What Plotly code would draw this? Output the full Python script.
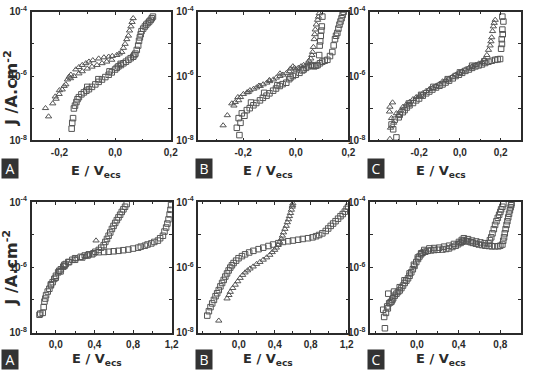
import plotly.graph_objects as go

W, H = 538, 381

# ---------------- data (E in V vs ECS, J in A/cm2) ----------------
# Top row, panel A
tA_tri_E = [-0.239, -0.224, -0.212, -0.201, -0.183, -0.171, -0.159, -0.141, -0.118, -0.094, -0.059, -0.023,
            0.006, 0.024, 0.036, 0.048, 0.057, 0.065, -0.177, -0.148, -0.118, -0.083, -0.047, -0.012,
            -0.25, -0.215, -0.19, -0.165, -0.13, -0.105, -0.08, -0.04, -0.01, 0.015, 0.03, 0.042, 0.052, 0.061,
            -0.20, -0.16, -0.13, -0.10, -0.065, -0.03]
tA_tri_J = [5.5e-8, 1.4e-7, 1.95e-7, 2.75e-7, 4.9e-7, 7.8e-7, 1.1e-6, 1.6e-6, 2.2e-6, 2.8e-6, 3.5e-6, 4.0e-6,
            4.5e-6, 5.6e-6, 1.0e-5, 1.8e-5, 3.5e-5, 6.3e-5, 5.5e-7, 1.0e-6, 1.4e-6, 1.95e-6, 2.5e-6, 3.2e-6,
            1.0e-7, 2.3e-7, 3.8e-7, 9.5e-7, 1.9e-6, 2.5e-6, 3.1e-6, 3.8e-6, 4.2e-6, 5.0e-6, 7.5e-6, 1.4e-5, 2.6e-5, 4.8e-5,
            3.6e-7, 8.5e-7, 1.2e-6, 1.7e-6, 2.2e-6, 2.8e-6]
tA_sq_E = [-0.156, -0.151, -0.148, -0.139, -0.130, -0.112, -0.094, -0.071, -0.047, -0.023, 0.0, 0.012, 0.030,
           0.048, 0.065, 0.073, 0.083, 0.089, 0.095, 0.107, 0.118, 0.128, 0.136,
           -0.154, -0.144, -0.135, -0.121, -0.103, -0.083, -0.059, -0.035, -0.012, 0.006, 0.021, 0.039, 0.056,
           0.069, 0.078, 0.086, 0.092, 0.101, 0.112, 0.123, 0.132, -0.10, -0.06, -0.02, 0.02]
tA_sq_J = [2.3e-8, 4.9e-8, 9.8e-8, 1.55e-7, 2.2e-7, 3.1e-7, 3.9e-7, 5.5e-7, 7.8e-7, 1.1e-6, 1.6e-6, 2.0e-6, 2.5e-6,
           3.2e-6, 4.0e-6, 5.0e-6, 8.9e-6, 1.6e-5, 2.5e-5, 3.5e-5, 4.5e-5, 5.6e-5, 7.1e-5,
           3.5e-8, 1.2e-7, 1.9e-7, 2.7e-7, 3.5e-7, 4.6e-7, 6.6e-7, 9.3e-7, 1.3e-6, 1.8e-6, 2.2e-6, 2.8e-6, 3.6e-6,
           4.5e-6, 6.5e-6, 1.25e-5, 2.0e-5, 3.0e-5, 4.0e-5, 5.0e-5, 6.3e-5, 4.6e-7, 8.0e-7, 1.4e-6, 2.4e-6]

# Top row, panel B
tB_tri_E = [-0.276, -0.243, -0.230, -0.217, -0.199, -0.174, -0.149, -0.124, -0.099, -0.074, -0.049, -0.024,
            -0.011, 0.001, 0.020, 0.045, 0.057, 0.064, 0.070, 0.074, 0.083, 0.089,
            -0.26, -0.235, -0.21, -0.185, -0.16, -0.135, -0.11, -0.085, -0.06, -0.035, -0.005, 0.01, 0.03, 0.05,
            0.061, 0.067, 0.072, 0.078, 0.086, -0.22, -0.18, -0.14, -0.10, -0.06, -0.02]
tB_tri_J = [2.9e-8, 1.4e-7, 1.55e-7, 1.75e-7, 2.75e-7, 3.6e-7, 4.4e-7, 5.5e-7, 6.9e-7, 8.9e-7, 1.1e-6, 1.4e-6,
            2.0e-6, 1.6e-6, 2.0e-6, 2.5e-6, 3.5e-6, 5.6e-6, 1.4e-5, 2.8e-5, 5.6e-5, 8.9e-5,
            6.0e-8, 1.2e-7, 2.2e-7, 3.1e-7, 4.0e-7, 4.9e-7, 6.2e-7, 7.8e-7, 1.0e-6, 1.25e-6, 1.8e-6, 1.8e-6, 2.2e-6, 3.0e-6,
            4.5e-6, 8.0e-6, 2.0e-5, 4.0e-5, 7.0e-5, 2.2e-7, 3.2e-7, 5.0e-7, 7.5e-7, 1.2e-6, 1.7e-6]
tB_sq_E = [-0.214, -0.224, -0.217, -0.205, -0.186, -0.161, -0.136, -0.111, -0.086, -0.061, -0.036, -0.011,
           0.014, 0.039, 0.057, 0.070, 0.083, 0.101, 0.120, 0.139, 0.149, 0.158, 0.166, 0.174, 0.182,
           0.089, 0.091, 0.095, 0.099, 0.101,
           -0.21, -0.195, -0.175, -0.15, -0.125, -0.1, -0.075, -0.05, -0.025, 0.0, 0.025, 0.048, 0.063, 0.077,
           0.092, 0.11, 0.13, 0.144, 0.153, 0.162, 0.170, 0.178, 0.093, 0.097, -0.17, -0.12, -0.07, -0.02, 0.03]
tB_sq_J = [1.45e-8, 2.45e-8, 4.9e-8, 6.9e-8, 8.7e-8, 1.23e-7, 1.75e-7, 2.45e-7, 3.5e-7, 4.9e-7, 6.2e-7, 1.0e-6,
           1.26e-6, 1.8e-6, 2.2e-6, 2.0e-6, 2.2e-6, 2.8e-6, 3.2e-6, 5.6e-6, 1.4e-5, 2.2e-5, 4.0e-5, 6.3e-5, 1.0e-4,
           4.5e-6, 8.9e-6, 1.8e-5, 3.5e-5, 7.1e-5,
           3.5e-8, 5.8e-8, 1.0e-7, 1.45e-7, 2.1e-7, 2.9e-7, 4.1e-7, 5.6e-7, 8.0e-7, 1.1e-6, 1.5e-6, 2.0e-6, 2.1e-6, 2.1e-6,
           2.5e-6, 3.0e-6, 4.2e-6, 9.0e-6, 1.8e-5, 3.0e-5, 5.0e-5, 8.0e-5, 1.2e-5, 2.6e-5, 1.5e-7, 3.0e-7, 5.2e-7, 9.0e-7, 1.6e-6]

# Top row, panel C
tC_sq_E = [-0.311, -0.327, -0.335, -0.319, -0.295, -0.271, -0.247, -0.214, -0.182, -0.150, -0.117, -0.085,
           -0.053, -0.021, 0.011, 0.044, 0.076, 0.108, 0.140, 0.173, 0.197, 0.202, 0.205, 0.208, 0.213, 0.208,
           -0.30, -0.28, -0.26, -0.23, -0.20, -0.165, -0.135, -0.10, -0.07, -0.035, -0.005, 0.027, 0.06, 0.092,
           0.124, 0.156, 0.185, 0.21, 0.206, -0.25, -0.19, -0.13, -0.06, 0.0, 0.06, 0.12]
tC_sq_J = [1.23e-8, 2.2e-8, 3.1e-8, 4.4e-8, 6.2e-8, 8.7e-8, 1.23e-7, 1.75e-7, 2.45e-7, 3.3e-7, 4.4e-7, 5.5e-7,
           7.2e-7, 1.0e-6, 1.26e-6, 1.6e-6, 2.0e-6, 2.3e-6, 2.8e-6, 3.2e-6, 3.4e-6, 7.1e-6, 1.4e-5, 2.8e-5, 5.0e-5, 7.1e-5,
           5.2e-8, 7.5e-8, 1.05e-7, 1.45e-7, 2.0e-7, 2.9e-7, 3.8e-7, 5.0e-7, 6.3e-7, 8.5e-7, 1.1e-6, 1.45e-6, 1.8e-6, 2.15e-6,
           2.55e-6, 3.0e-6, 3.3e-6, 2.0e-5, 1.0e-5, 1.4e-7, 2.6e-7, 4.6e-7, 8.0e-7, 1.3e-6, 2.1e-6, 2.9e-6]
tC_tri_E = [-0.343, -0.340, -0.335, -0.311, -0.279, -0.247, -0.214, -0.182, -0.150, -0.117, -0.085, -0.053,
            -0.021, 0.011, 0.044, 0.076, 0.108, 0.132, 0.148, 0.156, 0.164, 0.173, -0.343, -0.345,
            -0.325, -0.30, -0.29, -0.263, -0.23, -0.198, -0.166, -0.133, -0.10, -0.069, -0.037, -0.005, 0.027,
            0.06, 0.092, 0.12, 0.14, 0.152, 0.16, 0.168, -0.33]
tC_tri_J = [1.1e-8, 2.45e-8, 4.9e-8, 6.9e-8, 1.1e-7, 1.55e-7, 2.2e-7, 2.9e-7, 3.9e-7, 4.9e-7, 6.8e-7, 8.3e-7,
            1.1e-6, 1.4e-6, 1.8e-6, 2.2e-6, 2.7e-6, 4.5e-6, 8.9e-6, 1.6e-5, 3.5e-5, 5.6e-5, 1.1e-7, 7.8e-8,
            3.5e-8, 6.0e-8, 8.5e-8, 1.3e-7, 1.9e-7, 2.5e-7, 3.4e-7, 4.3e-7, 5.7e-7, 7.5e-7, 9.5e-7, 1.25e-6, 1.6e-6,
            2.0e-6, 2.45e-6, 3.3e-6, 6.5e-6, 1.2e-5, 2.5e-5, 4.5e-5, 1.5e-7]

# Bottom row, panel A
bA_sq_E = [-0.168, -0.135, -0.117, -0.100, -0.066, -0.032, 0.002, 0.053, 0.104, 0.172, 0.258, 0.342, 0.445,
           0.547, 0.649, 0.751, 0.853, 0.922, 0.989, 1.057, 1.109, 1.142, 1.167, 1.187, 1.193,
           -0.16, -0.125, -0.108, -0.083, -0.05, -0.015, 0.025, 0.078, 0.13, 0.2, 0.3, 0.39, 0.5, 0.6, 0.7, 0.8,
           0.88, 0.95, 1.02, 1.08, 1.125, 1.155, 1.178, -0.05, 0.0, 0.05, 0.09]
bA_sq_J = [3.5e-8, 4.0e-8, 8.9e-8, 1.4e-7, 2.2e-7, 3.5e-7, 5.5e-7, 8.7e-7, 1.26e-6, 1.7e-6, 2.1e-6, 2.5e-6, 2.9e-6,
           3.0e-6, 3.2e-6, 3.5e-6, 4.0e-6, 4.6e-6, 5.4e-6, 6.6e-6, 9.3e-6, 1.66e-5, 2.95e-5, 5.8e-5, 8.1e-5,
           3.8e-8, 6.0e-8, 1.1e-7, 1.8e-7, 2.8e-7, 4.4e-7, 7.0e-7, 1.05e-6, 1.45e-6, 1.9e-6, 2.3e-6, 2.7e-6, 2.95e-6,
           3.1e-6, 3.35e-6, 3.75e-6, 4.3e-6, 5.0e-6, 6.0e-6, 7.8e-6, 1.25e-5, 2.2e-5, 4.2e-5, 3.0e-7, 4.8e-7, 7.5e-7, 1.1e-6]
bA_sq2_E = [0.445, 0.496, 0.530, 0.564, 0.598, 0.632, 0.666, 0.700, 0.734, 0.036, 0.138, 0.274, 0.376,
            0.47, 0.513, 0.547, 0.581, 0.615, 0.649, 0.683, 0.717, 0.09, 0.2, 0.33, 0.41]
bA_sq2_J = [3.4e-6, 4.8e-6, 7.4e-6, 1.17e-5, 1.86e-5, 2.8e-5, 4.1e-5, 6.0e-5, 8.7e-5, 7.8e-7, 1.45e-6, 2.0e-6, 2.5e-6,
            4.0e-6, 6.0e-6, 9.3e-6, 1.5e-5, 2.3e-5, 3.4e-5, 5.0e-5, 7.2e-5, 1.2e-6, 1.7e-6, 2.3e-6, 3.0e-6]
bA_tri_E = [0.417, 0.070, 0.207, 0.309]
bA_tri_J = [6.6e-6, 1.0e-6, 1.8e-6, 2.15e-6]

# Bottom row, panel B
bB_sq_E = [-0.351, -0.315, -0.277, -0.241, -0.205, -0.168, -0.131, -0.095, -0.058, -0.003, 0.070, 0.162, 0.272,
           0.382, 0.492, 0.602, 0.712, 0.821, 0.894, 0.968, 1.023, 1.077, 1.132, 1.180, 1.217,
           -0.333, -0.296, -0.259, -0.223, -0.186, -0.15, -0.113, -0.077, -0.03, 0.035, 0.115, 0.22, 0.33, 0.44,
           0.55, 0.66, 0.77, 0.86, 0.93, 0.995, 1.05, 1.105, 1.157, 1.2]
bB_sq_J = [3.3e-8, 6.0e-8, 1.0e-7, 1.6e-7, 2.6e-7, 4.1e-7, 6.5e-7, 9.8e-7, 1.35e-6, 1.9e-6, 2.5e-6, 3.2e-6, 4.0e-6,
           5.0e-6, 6.0e-6, 6.6e-6, 7.4e-6, 8.3e-6, 9.8e-6, 1.3e-5, 1.86e-5, 2.6e-5, 3.7e-5, 5.1e-5, 7.2e-5,
           4.5e-8, 7.8e-8, 1.3e-7, 2.0e-7, 3.3e-7, 5.2e-7, 8.0e-7, 1.15e-6, 1.6e-6, 2.2e-6, 2.85e-6, 3.6e-6, 4.5e-6, 5.5e-6,
           6.3e-6, 7.0e-6, 7.8e-6, 9.0e-6, 1.1e-5, 1.55e-5, 2.2e-5, 3.1e-5, 4.3e-5, 6.2e-5]
bB_tri_E = [-0.223, -0.131, -0.095, -0.040, 0.015, 0.070, 0.125, 0.198, 0.272, 0.345, 0.399, 0.437, 0.473,
            0.498, 0.528, 0.553, 0.575, 0.594, 0.602,
            -0.11, -0.068, -0.012, 0.043, 0.098, 0.16, 0.235, 0.31, 0.372, 0.418, 0.455, 0.485, 0.513, 0.54,
            0.564, 0.585, 0.598]
bB_tri_J = [2.3e-8, 1.1e-7, 1.75e-7, 2.9e-7, 4.7e-7, 6.9e-7, 9.1e-7, 1.26e-6, 1.7e-6, 2.4e-6, 3.4e-6, 4.8e-6, 7.4e-6,
            1.17e-5, 1.86e-5, 2.95e-5, 4.6e-5, 7.2e-5, 9.1e-5,
            1.4e-7, 2.3e-7, 3.7e-7, 5.8e-7, 8.0e-7, 1.05e-6, 1.45e-6, 2.0e-6, 2.9e-6, 4.0e-6, 6.0e-6, 9.3e-6, 1.5e-5, 2.4e-5,
            3.7e-5, 5.8e-5, 8.0e-5]

# Bottom row, panel C
bC_sq_E = [-0.308, -0.324, -0.298, -0.286, -0.267, -0.245, -0.229, -0.197, -0.166, -0.134, -0.102, -0.071,
           -0.040, -0.007, 0.024, 0.055, 0.103, 0.166, 0.245, 0.308, 0.372, 0.419, 0.450, 0.491, 0.536, 0.593,
           0.656, 0.719, 0.782, 0.820, 0.836, 0.851, 0.868, 0.884, 0.899, 0.908,
           -0.315, -0.28, -0.255, -0.237, -0.213, -0.182, -0.15, -0.118, -0.086, -0.055, -0.024, 0.01, 0.04, 0.08,
           0.135, 0.2, 0.28, 0.34, 0.395, 0.435, 0.47, 0.515, 0.565, 0.625, 0.69, 0.75, 0.80, 0.828, 0.843, 0.86,
           0.876, 0.892, 0.904]
bC_sq_J = [1.35e-8, 5.0e-8, 4.0e-8, 6.3e-8, 7.9e-8, 8.9e-8, 1.12e-7, 1.55e-7, 1.95e-7, 2.75e-7, 3.9e-7, 5.5e-7,
           8.7e-7, 1.45e-6, 2.15e-6, 2.8e-6, 3.2e-6, 3.4e-6, 3.5e-6, 3.8e-6, 4.6e-6, 5.6e-6, 6.6e-6, 6.2e-6, 5.6e-6,
           5.0e-6, 4.6e-6, 4.4e-6, 4.4e-6, 5.0e-6, 8.3e-6, 1.48e-5, 2.6e-5, 4.4e-5, 6.9e-5, 9.1e-5,
           3.0e-8, 5.5e-8, 8.4e-8, 1.0e-7, 1.35e-7, 1.75e-7, 2.3e-7, 3.3e-7, 4.6e-7, 7.0e-7, 1.1e-6, 1.8e-6, 2.5e-6, 3.0e-6,
           3.3e-6, 3.45e-6, 3.65e-6, 4.2e-6, 5.1e-6, 6.1e-6, 6.4e-6, 5.9e-6, 5.3e-6, 4.8e-6, 4.5e-6, 4.4e-6, 4.6e-6,
           6.5e-6, 1.1e-5, 2.0e-5, 3.4e-5, 5.6e-5, 8.0e-5]
bC_sq2_E = [0.687, 0.713, 0.738, 0.763, 0.789, 0.808, 0.830, 0.119, 0.214, 0.308, 0.403, 0.450, 0.529, 0.609,
            -0.276, -0.166, -0.071, 0.008,
            0.70, 0.725, 0.75, 0.776, 0.80, 0.82, 0.07, 0.165, 0.26, 0.355, 0.43, 0.49, 0.57, 0.65,
            -0.22, -0.12, -0.03, 0.04]
bC_sq2_J = [5.4e-6, 8.3e-6, 1.48e-5, 2.6e-5, 4.1e-5, 6.0e-5, 8.7e-5, 3.8e-6, 4.0e-6, 4.6e-6, 6.0e-6, 7.8e-6,
            6.6e-6, 5.8e-6, 1.55e-7, 2.45e-7, 6.5e-7, 2.0e-6,
            6.8e-6, 1.1e-5, 2.0e-5, 3.3e-5, 5.0e-5, 7.2e-5, 3.4e-6, 3.9e-6, 4.3e-6, 5.2e-6, 6.9e-6, 7.3e-6, 6.2e-6, 5.5e-6,
            1.8e-7, 4.0e-7, 1.2e-6, 2.7e-6]

top_xticks = [-0.2, 0.0, 0.2]
top_xlabels = ["-0,2", "0,0", "0,2"]
bot_xticks = [0.0, 0.4, 0.8, 1.2]
bot_xlabels = ["0,0", "0,4", "0,8", "1,2"]
y_ticks = [1e-8, 1e-7, 1e-6, 1e-5, 1e-4]
y_labels = ["10<sup>-8</sup>", "", "10<sup>-6</sup>", "", "10<sup>-4</sup>"]
panel_letters = ["A", "B", "C", "A", "B", "C"]

SQ, TRI = "square-open", "triangle-up-open"
panels = [
    dict(box=(32, 173, 5, 138), xr=[-0.30, 0.20], xt=(top_xticks, top_xlabels), minor=0.1,
         series=[(tA_tri_E, tA_tri_J, TRI), (tA_sq_E, tA_sq_J, SQ)]),
    dict(box=(201, 353, 5, 138), xr=[-0.37, 0.20], xt=(top_xticks, top_xlabels), minor=0.1,
         series=[(tB_tri_E, tB_tri_J, TRI), (tB_sq_E, tB_sq_J, SQ)]),
    dict(box=(375, 528, 5, 138), xr=[-0.44, 0.30], xt=(top_xticks, top_xlabels), minor=0.1,
         series=[(tC_tri_E, tC_tri_J, TRI), (tC_sq_E, tC_sq_J, SQ)]),
    dict(box=(32, 174, 202, 337), xr=[-0.25, 1.20], xt=(bot_xticks, bot_xlabels), minor=0.2,
         series=[(bA_sq_E, bA_sq_J, SQ), (bA_sq2_E, bA_sq2_J, SQ), (bA_tri_E, bA_tri_J, TRI)]),
    dict(box=(201, 353, 202, 337), xr=[-0.45, 1.22], xt=(bot_xticks, bot_xlabels), minor=0.2,
         series=[(bB_sq_E, bB_sq_J, SQ), (bB_tri_E, bB_tri_J, TRI)]),
    dict(box=(375, 528, 202, 337), xr=[-0.45, 1.00], xt=(bot_xticks[:3], bot_xlabels[:3]), minor=0.2,
         series=[(bC_sq_E, bC_sq_J, SQ), (bC_sq2_E, bC_sq2_J, SQ)]),
]

INK = "#2b2b2b"
MARK = "#555555"
TICKFONT = dict(family="Liberation Sans", size=10, color=INK)
TITLEFONT = "DejaVu Sans"

fig = go.Figure()
annotations = []
for i, p in enumerate(panels, start=1):
    sfx = "" if i == 1 else str(i)
    xa, ya = "x" + sfx, "y" + sfx
    for E, J, sym in p["series"]:
        fig.add_trace(go.Scatter(
            x=E, y=J, mode="markers", xaxis=xa, yaxis=ya, showlegend=False,
            marker=dict(symbol=sym, size=5.5, color=MARK, line=dict(color=MARK, width=1))))
    x0, x1, y0, y1 = p["box"]
    lo, hi = p["xr"]
    tv, tt = p["xt"]
    minor_vals = []
    v = -2.0
    while v <= 2.0:
        if lo < v < hi and all(abs(v - t) > 1e-6 for t in tv):
            minor_vals.append(round(v, 2))
        v = round(v + p["minor"], 2)
    fig.layout["xaxis" + sfx] = dict(
        domain=[x0 / W, x1 / W], anchor=ya, range=p["xr"],
        tickmode="array", tickvals=tv, ticktext=["<b>%s</b>" % t for t in tt],
        ticks="inside", ticklen=3, tickwidth=1, tickcolor=INK,
        minor=dict(tickmode="array", tickvals=minor_vals, ticks="inside", ticklen=2, tickcolor=INK),
        showline=True, linecolor=INK, linewidth=1.5, mirror="allticks",
        showgrid=False, zeroline=False, tickfont=TICKFONT, ticklabelstandoff=2)
    fig.layout["yaxis" + sfx] = dict(
        domain=[1 - y1 / H, 1 - y0 / H], anchor=xa, type="log", range=[-8, -4],
        tickmode="array", tickvals=y_ticks, ticktext=["<b>%s</b>" % t if t else "" for t in y_labels],
        ticks="inside", ticklen=3, tickwidth=1, tickcolor=INK,
        showline=True, linecolor=INK, linewidth=1.5, mirror="allticks",
        showgrid=False, zeroline=False, tickfont=TICKFONT, ticklabelstandoff=1)

    # x-axis title
    ty = 170 if i <= 3 else 365
    cx = (x0 + x1) / 2 - 5
    annotations.append(dict(
        x=cx / W, y=1 - ty / H, xref="paper", yref="paper", showarrow=False,
        text="<b>E / V<sub>ecs</sub></b>", font=dict(family=TITLEFONT, size=13, color=INK),
        xanchor="center", yanchor="middle"))
    # panel letter badge
    lx = 10 if x0 < 100 else x0 + 6
    ly = 167 if i <= 3 else 365
    annotations.append(dict(
        x=lx / W, y=1 - ly / H, xref="paper", yref="paper", showarrow=False,
        text=panel_letters[i - 1], font=dict(family="Open Sans", size=14, color="white"),
        bgcolor="#333333", width=16, height=19, borderpad=0, xanchor="center", yanchor="middle"))

# y-axis titles (left column only)
for cy in (84, 270):
    annotations.append(dict(
        x=11 / W, y=1 - cy / H, xref="paper", yref="paper", showarrow=False, textangle=-90,
        text="<b>J /A.cm<sup>-2</sup></b>", font=dict(family=TITLEFONT, size=16, color=INK),
        xanchor="center", yanchor="middle"))

fig.update_layout(
    width=W, height=H, margin=dict(l=0, r=0, t=0, b=0),
    paper_bgcolor="white", plot_bgcolor="white",
    annotations=annotations, showlegend=False)

fig.write_html("out.html")
